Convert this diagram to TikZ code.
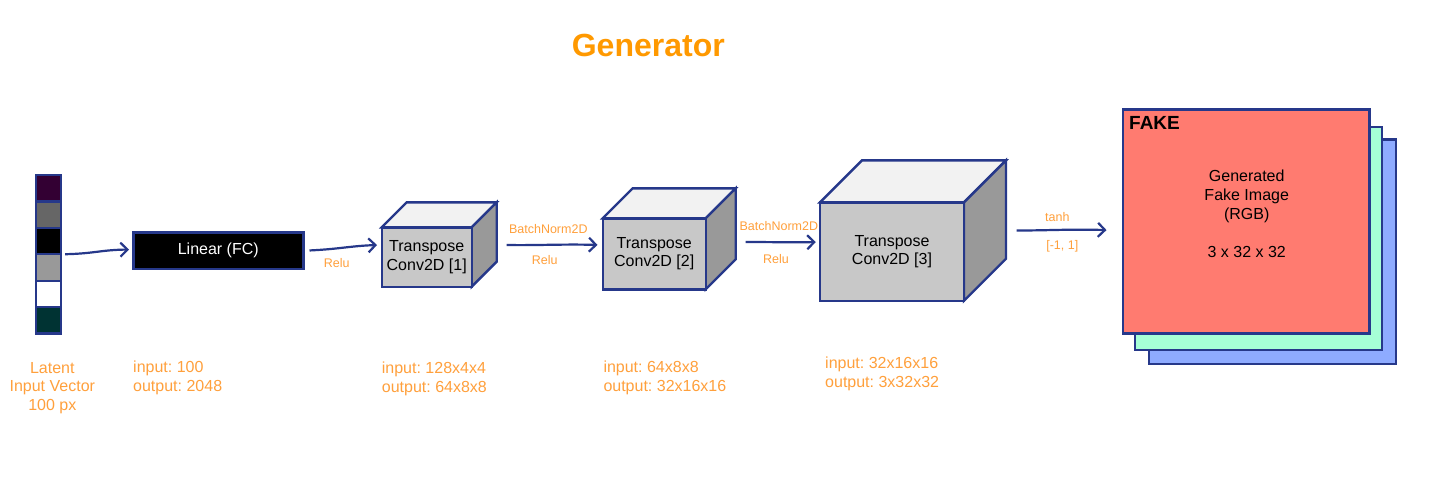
\documentclass[tikz,border=0pt]{standalone}
\usepackage{fontspec}
\setmainfont{Liberation Sans}
\usetikzlibrary{arrows.meta}
\frenchspacing
\definecolor{navy}{HTML}{26388A}
\definecolor{lbl}{HTML}{FFA03C}
\definecolor{ttl}{HTML}{FF9900}
\definecolor{frontc}{HTML}{C8C8C8}
\definecolor{topc}{HTML}{F2F2F2}
\definecolor{sidec}{HTML}{999999}
\definecolor{redc}{HTML}{FF7B70}
\definecolor{greenc}{HTML}{A6FFD6}
\definecolor{bluec}{HTML}{8EABFF}
\definecolor{cellA}{HTML}{330033}
\definecolor{cellB}{HTML}{666666}
\definecolor{cellC}{HTML}{000000}
\definecolor{cellD}{HTML}{999999}
\definecolor{cellE}{HTML}{FFFFFF}
\definecolor{cellF}{HTML}{003333}
\tikzset{
  cubeline/.style={draw=navy, line width=2.4pt},
  cubefront/.style={cubeline, fill=frontc, inner sep=0pt, align=center,
     font=\fontsize{16}{18.5}\selectfont, text=black},
  cellbox/.style={draw=navy, line width=2.2pt, minimum width=25, minimum height=26.45, inner sep=0pt},
  conn/.style={draw=navy, line width=2.2pt, -{Straight Barb[length=7pt,width=14pt]}},
  smalllbl/.style={text=lbl, font=\fontsize{12.5}{14}\selectfont, inner sep=0pt},
  infolbl/.style={text=lbl, font=\fontsize{16}{18.5}\selectfont, align=left, anchor=west, inner sep=0pt},
  imgrect/.style={draw=navy, line width=2.4pt},
}
\newcommand{\mycube}[7]{%
  \filldraw[cubeline, fill=topc] (#2,#3) -- (#2+#6,#3-#6) -- (#4+#6,#3-#6) -- (#4,#3) -- cycle;
  \filldraw[cubeline, fill=sidec] (#4,#3) -- (#4+#6,#3-#6) -- (#4+#6,#5-#6) -- (#4,#5) -- cycle;
  \node[cubefront, minimum width={#4-#2}, minimum height={#5-#3}] (#1) at ({(#2+#4)/2},{(#3+#5)/2}) {#7};
}
\begin{document}
\begin{tikzpicture}[x=1pt,y=-1pt]
\useasboundingbox (0,0) rectangle (1447,483);
\fill[white] (0,0) rectangle (1447,483);

% title
\node[text=ttl, font=\bfseries\fontsize{32}{36}\selectfont] (title) at (648.3,45) {Generator};

% latent vector
\node[cellbox, fill=cellA] (v1) at (48.4,188.2) {};
\node[cellbox, fill=cellB] (v2) at (48.4,214.7) {};
\node[cellbox, fill=cellC] (v3) at (48.4,241.1) {};
\node[cellbox, fill=cellD] (v4) at (48.4,267.6) {};
\node[cellbox, fill=cellE] (v5) at (48.4,294.0) {};
\node[cellbox, fill=cellF] (v6) at (48.4,320.5) {};
\node[draw=navy, line width=2.4pt, minimum width=25, minimum height=158.7, inner sep=0pt] (vec) at (48.4,254.3) {};

% linear
\node[draw=navy, line width=2.4pt, fill=black, text=white, minimum width=170, minimum height=36.7,
      inner sep=0pt, font=\fontsize{16}{18.5}\selectfont] (lin) at (218.3,250.7) {Linear (FC)};

% cubes
\mycube{c1}{381.7}{227.3}{471.7}{286.7}{25}{Transpose\\Conv2D [1]}
\mycube{c2}{602.7}{218.3}{705.7}{289.3}{30}{Transpose\\Conv2D [2]}
\mycube{c3}{820}{202.3}{964}{300.7}{42}{Transpose\\Conv2D [3]}

% image stack
\filldraw[imgrect, fill=bluec] (1149,139.3) rectangle (1396,364);
\filldraw[imgrect, fill=greenc] (1135,126.7) rectangle (1381.7,350);
\node[imgrect, fill=redc, minimum width=246.6, minimum height=224, inner sep=0pt] (img) at (1246,221.3) {};
\node[anchor=west, inner sep=0pt, font=\bfseries\fontsize{19}{22}\selectfont] (fake) at (1129,123.3) {FAKE};
\node[align=center, inner sep=0pt, font=\fontsize{16}{19}\selectfont] (imgtxt) at (1246.7,214)
  {Generated\\Fake Image\\(RGB)\\[18.7pt]3 x 32 x 32};

% connectors
\coordinate (a1e) at (377,245);
\coordinate (a2s) at (506.7,245);
\coordinate (a3s) at (745.7,242);
\coordinate (a4s) at (1016.7,230.5);
\draw[conn, shorten <=3pt] (vec.east) .. controls (95,253.5) and (100,250) .. (129,249.5);
\draw[conn, shorten <=5pt] (lin.east) .. controls (340,249) and (350,246) .. (a1e);
\draw[conn, shorten >=4pt] (a2s) .. controls (540,245.5) and (560,244) .. (a2s -| c2.west);
\draw[conn, shorten >=3pt] (a3s) .. controls (770,242) and (790,242.5) .. (a3s -| c3.west);
\draw[conn, shorten >=15pt] (a4s) .. controls (1050,230.5) and (1070,229) .. (a4s -| img.west);

% small labels
\node[smalllbl] (r1) at (336.7,263.5) {Relu};
\node[smalllbl] (b1) at (548.3,229) {BatchNorm2D};
\node[smalllbl] (r2) at (544.7,260) {Relu};
\node[smalllbl] (b2) at (778.8,226) {BatchNorm2D};
\node[smalllbl] (r3) at (776,259) {Relu};
\node[smalllbl] (t1) at (1057.3,216.7) {tanh};
\node[smalllbl] (t2) at (1062.3,246) {[-1, 1]};

% info labels
\node[text=lbl, font=\fontsize{16}{18.5}\selectfont, align=center, inner sep=0pt] (lat) at (52.3,388) {Latent\\Input Vector\\100 px};
\node[infolbl] (i0) at (133,378) {input: 100\\output: 2048};
\node[infolbl] (i1) at (381.7,379) {input: 128x4x4\\output: 64x8x8};
\node[infolbl] (i2) at (603.3,378) {input: 64x8x8\\output: 32x16x16};
\node[infolbl] (i3) at (825,373.7) {input: 32x16x16\\output: 3x32x32};
\end{tikzpicture}
\end{document}
